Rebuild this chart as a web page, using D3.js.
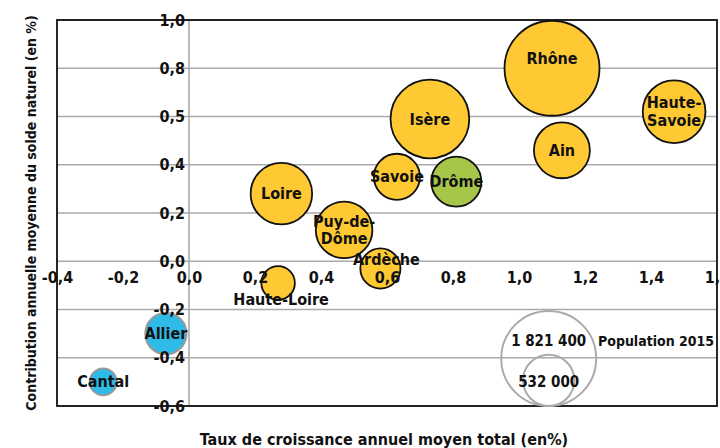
<!DOCTYPE html>
<html>
<head>
<meta charset="utf-8">
<script src="https://cdn.jsdelivr.net/npm/d3@7"></script>
<style>
  body { margin: 0; background: #fff; }
  svg text { font-family: "DejaVu Sans Condensed", "DejaVu Sans", sans-serif; font-stretch: condensed; font-weight: bold; fill: #111; }
</style>
</head>
<body>
<div id="cont"></div>
<script>
// data //
var depts = ["Rhône", "Isère", "Haute-Savoie", "Ain", "Savoie", "Drôme", "Loire", "Puy-de-Dôme", "Ardèche", "Haute-Loire", "Allier", "Cantal"];
var croissance = [1.10, 0.73, 1.47, 1.13, 0.63, 0.81, 0.28, 0.47, 0.58, 0.27, -0.07, -0.26];
var solde = [0.80, 0.59, 0.62, 0.46, 0.35, 0.33, 0.28, 0.13, -0.03, -0.09, -0.30, -0.50];
var population = [1821400, 1251000, 794000, 632000, 429000, 505000, 763000, 647500, 325000, 227000, 341600, 146200];
var groupe = ["a", "a", "a", "a", "a", "b", "a", "a", "a", "a", "c", "c"];
var xTicks = [-0.4, -0.2, 0, 0.2, 0.4, 0.6, 0.8, 1.0, 1.2, 1.4, 1.6];
var yTicks = [1.0, 0.8, 0.6, 0.4, 0.2, 0, -0.2, -0.4, -0.6];
var yTickLabels = ["1,0", "0,8", "0,5", "0,4", "0,2", "0,0", "-0,2", "-0,4", "-0,6"];
var legendPop = [1821400, 532000];
var legendLabels = ["1 821 400", "532 000"];

var fills = { a: "#ffc933", b: "#a6c64a", c: "#2fbbe8" };
var strokes = { a: "#111", b: "#111", c: "#999" };

var svg = d3.select("#cont").append("svg").attr("width", 720).attr("height", 448);

var x = d3.scaleLinear().domain([-0.4, 1.6]).range([57, 717]);
var y = d3.scaleLinear().domain([-0.6, 1.0]).range([406, 20]);
var r = d3.scaleSqrt().domain([0, 1821400]).range([0, 47.5]);

var fmt = function(v) { return d3.format(".1f")(v).replace(".", ",").replace("−", "-"); };

// grid
svg.append("g").selectAll("line").data(yTicks).join("line")
  .attr("x1", x(-0.4)).attr("x2", x(1.6))
  .attr("y1", function(d) { return y(d); }).attr("y2", function(d) { return y(d); })
  .attr("stroke", "#aaa").attr("stroke-width", 1.6);
svg.append("line")
  .attr("x1", x(0)).attr("x2", x(0)).attr("y1", y(1.0)).attr("y2", y(-0.6))
  .attr("stroke", "#aaa").attr("stroke-width", 1.6);

// frame
svg.append("rect")
  .attr("x", x(-0.4)).attr("y", y(1.0))
  .attr("width", x(1.6) - x(-0.4)).attr("height", y(-0.6) - y(1.0))
  .attr("fill", "none").attr("stroke", "#111").attr("stroke-width", 1.8);

// legend circles
var lg = svg.append("g");
lg.selectAll("circle").data(legendPop).join("circle")
  .attr("cx", x(1.09))
  .attr("cy", function(d) { return y(-0.6) - r(d); })
  .attr("r", function(d) { return r(d); })
  .attr("fill", "none").attr("stroke", "#aaa").attr("stroke-width", 2);

// bubbles
var idx = d3.range(depts.length).sort(function(a, b) { return population[b] - population[a]; });
svg.append("g").selectAll("circle").data(idx).join("circle")
  .attr("cx", function(i) { return x(croissance[i]); })
  .attr("cy", function(i) { return y(solde[i]); })
  .attr("r", function(i) { return r(population[i]); })
  .attr("fill", function(i) { return fills[groupe[i]]; })
  .attr("stroke", function(i) { return strokes[groupe[i]]; })
  .attr("stroke-width", function(i) { return groupe[i] == "c" ? 2 : 1.8; });

// x axis tick labels along the 0 line
var xa = svg.append("g").attr("transform", "translate(0," + y(0) + ")")
  .call(d3.axisBottom(x).tickValues(xTicks).tickFormat(fmt).tickSize(0).tickPadding(10));
xa.select(".domain").remove();
xa.selectAll("text").attr("font-size", 16).attr("fill", "#111").attr("font-family", null);

// y axis tick labels along the 0 line
var ya = svg.append("g").attr("transform", "translate(" + (x(0) - 4) + ",0)")
  .call(d3.axisLeft(y).tickValues(yTicks).tickFormat(function(d, i) { return yTickLabels[i]; }).tickSize(0).tickPadding(0));
ya.select(".domain").remove();
ya.selectAll("text").attr("font-size", 16).attr("fill", "#111").attr("font-family", null);

// bubble labels
var labelLines = {
  "Haute-Savoie": ["Haute-", "Savoie"],
  "Puy-de-Dôme": ["Puy-de-", "Dôme"]
};
var labelShift = { "Rhône": [0, -10], "Ardèche": [6, -9], "Haute-Loire": [3, 16], "Puy-de-Dôme": [0, 0] };
var lab = svg.append("g").selectAll("text").data(d3.range(depts.length)).join("text")
  .attr("text-anchor", "middle")
  .attr("font-size", 16)
  .attr("x", function(i) { return x(croissance[i]) + (labelShift[depts[i]] ? labelShift[depts[i]][0] : 0); })
  .attr("y", function(i) { return y(solde[i]) + (labelShift[depts[i]] ? labelShift[depts[i]][1] : 0); });
lab.each(function(i) {
  var lines = labelLines[depts[i]] || [depts[i]];
  var t = d3.select(this);
  lines.forEach(function(l, k) {
    t.append("tspan").attr("x", t.attr("x"))
      .attr("dy", k == 0 ? (0.35 - (lines.length - 1) * 0.55) + "em" : "1.1em")
      .text(l);
  });
});

// legend labels
lg.selectAll("text.v").data(legendPop).join("text").attr("class", "v")
  .attr("x", x(1.09)).attr("y", function(d, i) { return i == 0 ? 346 : 387; })
  .attr("text-anchor", "middle").attr("font-size", 15)
  .text(function(d, i) { return legendLabels[i]; });
lg.append("text").attr("x", 598).attr("y", 346).attr("font-size", 14).text("Population 2015");

// axis titles
svg.append("text").attr("x", 384).attr("y", 445).attr("text-anchor", "middle").attr("font-size", 16)
  .text("Taux de croissance annuel moyen total (en%)");
svg.append("text").attr("transform", "translate(36,213) rotate(-90)").attr("text-anchor", "middle").attr("font-size", 14)
  .text("Contribution annuelle moyenne du solde naturel (en %)");
</script>
</body>
</html>
